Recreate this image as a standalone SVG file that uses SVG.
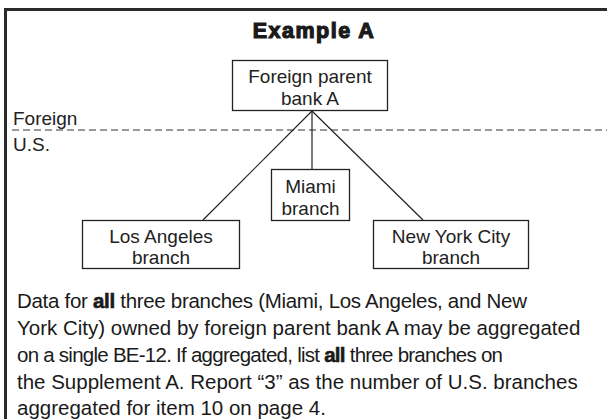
<svg xmlns="http://www.w3.org/2000/svg" width="607" height="419" viewBox="0 0 607 419">
<style>
.box{fill:#fff;stroke:#222;stroke-width:1.3}
.lbl{font-family:"Liberation Sans",Arial,sans-serif;font-size:19px;fill:#222;text-anchor:middle}
.side{font-family:"Liberation Sans",Arial,sans-serif;font-size:19px;fill:#222}
.body{font-family:"Liberation Sans",Arial,sans-serif;font-size:20.5px;fill:#1a1a1a}
.b{font-weight:bold;stroke:#1a1a1a;stroke-width:0.6}
.con{stroke:#222;stroke-width:1.2;fill:none}
</style>
<rect x="0" y="0" width="607" height="419" fill="#fff"/>
<path d="M5.5 419 V9.5 H607" fill="none" stroke="#2a2a2a" stroke-width="3"/>
<text x="314" y="38" font-family="Liberation Sans,Arial,sans-serif" font-size="21.5" font-weight="bold" letter-spacing="1.5" fill="#1a1a1a" stroke="#1a1a1a" stroke-width="1.2" text-anchor="middle">Example A</text>
<line x1="12" y1="130" x2="607" y2="130" stroke="#333" stroke-width="1.2" stroke-dasharray="7,4"/>
<text class="side" x="13" y="125">Foreign</text>
<text class="side" x="13" y="151">U.S.</text>
<g id="connectors">
<line class="con" x1="312" y1="111" x2="203" y2="220"/>
<line class="con" x1="312" y1="111" x2="312" y2="169"/>
<line class="con" x1="312" y1="111" x2="423" y2="220"/>
</g>
<g id="parent">
<rect class="box" x="232.5" y="60.5" width="155" height="50"/>
<text class="lbl" x="310" y="83">Foreign parent</text>
<text class="lbl" x="310" y="105">bank A</text>
</g>
<g id="miami">
<rect class="box" x="271.5" y="169.5" width="78" height="51"/>
<text class="lbl" x="310.5" y="193">Miami</text>
<text class="lbl" x="310.5" y="215">branch</text>
</g>
<g id="la">
<rect class="box" x="82.5" y="220.5" width="157" height="48"/>
<text class="lbl" x="161" y="243">Los Angeles</text>
<text class="lbl" x="161" y="264">branch</text>
</g>
<g id="nyc">
<rect class="box" x="373.5" y="220.5" width="155" height="48"/>
<text class="lbl" x="451" y="243">New York City</text>
<text class="lbl" x="451" y="264">branch</text>
</g>
<text class="body" x="17" y="308" textLength="510" lengthAdjust="spacing">Data for <tspan class="b">all</tspan> three branches (Miami, Los Angeles, and New</text>
<text class="body" x="17" y="335">York City) owned by foreign parent bank A may be aggregated</text>
<text class="body" x="17" y="362" textLength="486" lengthAdjust="spacing">on a single BE-12. If aggregated, list <tspan class="b">all</tspan> three branches on</text>
<text class="body" x="17" y="389">the Supplement A. Report “3” as the number of U.S. branches</text>
<text class="body" x="17" y="415">aggregated for item 10 on page 4.</text>
</svg>
